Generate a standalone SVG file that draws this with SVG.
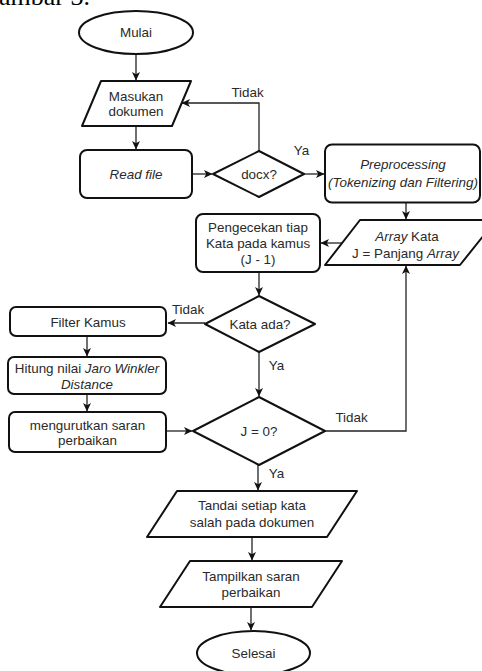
<svg xmlns="http://www.w3.org/2000/svg" width="482" height="671" viewBox="0 0 482 671">
<defs>
<marker id="arr" markerWidth="9" markerHeight="8" refX="8" refY="4" orient="auto" markerUnits="userSpaceOnUse">
<path d="M0,0 L8.5,4 L0,8 L2.2,4 Z" fill="#111"/>
</marker>
<style>
.shape{fill:#fff;stroke:#111;stroke-width:2;stroke-linejoin:round}
.t{font-family:"Liberation Sans",Arial,sans-serif;font-size:13.4px;fill:#2a2a2a;text-anchor:middle}
.i{font-style:italic}
.conn{fill:none;stroke:#222;stroke-width:1.3}
.lbl{font-family:"Liberation Sans",Arial,sans-serif;font-size:13.4px;fill:#2a2a2a;text-anchor:middle}
</style>
</defs>
<rect width="482" height="671" fill="#fff"/>
<text x="-1" y="5" font-family="Liberation Serif, Times New Roman, serif" font-size="26" fill="#000">ambar 3.</text>

<g id="connectors">
<path class="conn" d="M136,54 V80" marker-end="url(#arr)"/>
<path class="conn" d="M136,126 V149" marker-end="url(#arr)"/>
<path class="conn" d="M192,174 H212" marker-end="url(#arr)"/>
<path class="conn" d="M259,151 V103 H182" marker-end="url(#arr)"/>
<path class="conn" d="M304,174 H324" marker-end="url(#arr)"/>
<path class="conn" d="M406,202 V219" marker-end="url(#arr)"/>
<path class="conn" d="M342,243 H321" marker-end="url(#arr)"/>
<path class="conn" d="M259,272 V295" marker-end="url(#arr)"/>
<path class="conn" d="M205,323 H168" marker-end="url(#arr)"/>
<path class="conn" d="M87,336 V356" marker-end="url(#arr)"/>
<path class="conn" d="M87,394 V411" marker-end="url(#arr)"/>
<path class="conn" d="M166,431 H192" marker-end="url(#arr)"/>
<path class="conn" d="M259,352 V396" marker-end="url(#arr)"/>
<path class="conn" d="M325,431 H406 V266" marker-end="url(#arr)"/>
<path class="conn" d="M258,465 V490" marker-end="url(#arr)"/>
<path class="conn" d="M252,537 V560" marker-end="url(#arr)"/>
<path class="conn" d="M251,607 V630" marker-end="url(#arr)"/>
<text class="lbl" x="247.5" y="96.5">Tidak</text>
<text class="lbl" x="301.5" y="154.5">Ya</text>
<text class="lbl" x="188" y="313.5">Tidak</text>
<text class="lbl" x="276.5" y="369.5">Ya</text>
<text class="lbl" x="351.5" y="421.5">Tidak</text>
<text class="lbl" x="276.5" y="478">Ya</text>
</g>

<g id="mulai">
<ellipse class="shape" cx="136" cy="32.5" rx="57" ry="21.5"/>
<text class="t" x="136" y="37">Mulai</text>
</g>
<g id="masukan">
<path class="shape" d="M101,81 H191 L172,126 H82 Z"/>
<text class="t" x="136" y="100.5">Masukan</text>
<text class="t" x="136" y="116">dokumen</text>
</g>
<g id="readfile">
<rect class="shape" x="80" y="150" width="112" height="48" rx="7"/>
<text class="t i" x="136" y="178.5">Read file</text>
</g>
<g id="docx">
<path class="shape" d="M259,151 L304,174 L259,197 L213,174 Z"/>
<text class="t" x="259" y="178.5">docx?</text>
</g>
<g id="preprocessing">
<rect class="shape" x="325" y="144.5" width="155" height="58" rx="7"/>
<text class="t i" x="403" y="168.5">Preprocessing</text>
<text class="t i" x="403" y="186.5">(Tokenizing dan Filtering)</text>
</g>
<g id="array">
<path class="shape" d="M360,220 H496 L460,265 H325 Z"/>
<text class="t" x="407" y="240.5"><tspan class="i">Array</tspan> Kata</text>
<text class="t" x="405.5" y="257.5">J = Panjang <tspan class="i">Array</tspan></text>
</g>
<g id="pengecekan">
<rect class="shape" x="196" y="214" width="124" height="58" rx="7"/>
<text class="t" x="258" y="231.5">Pengecekan tiap</text>
<text class="t" x="258" y="247.5">Kata pada kamus</text>
<text class="t" x="258" y="264">(J - 1)</text>
</g>
<g id="kataada">
<path class="shape" d="M259,296 L315,324 L259,352 L205,324 Z"/>
<text class="t" x="260" y="328.5">Kata ada?</text>
</g>
<g id="filter">
<rect class="shape" x="10" y="307" width="156" height="29" rx="6"/>
<text class="t" x="88" y="326.5">Filter Kamus</text>
</g>
<g id="hitung">
<rect class="shape" x="8" y="357" width="158" height="37" rx="6"/>
<text class="t" x="87" y="372.5">Hitung nilai <tspan class="i">Jaro Winkler</tspan></text>
<text class="t i" x="87" y="388.5">Distance</text>
</g>
<g id="mengurutkan">
<rect class="shape" x="9" y="412" width="157" height="40" rx="6"/>
<text class="t" x="87.5" y="429.5">mengurutkan saran</text>
<text class="t" x="87.5" y="445">perbaikan</text>
</g>
<g id="j0">
<path class="shape" d="M259,397 L325,431 L259,465 L193,431 Z"/>
<text class="t" x="259" y="435.5">J = 0?</text>
</g>
<g id="tandai">
<path class="shape" d="M177,491 H357 L327,537 H147 Z"/>
<text class="t" x="252" y="509.5">Tandai setiap kata</text>
<text class="t" x="252" y="526.5">salah pada dokumen</text>
</g>
<g id="tampilkan">
<path class="shape" d="M190,561 H342 L312,607 H160 Z"/>
<text class="t" x="251" y="580.5">Tampilkan saran</text>
<text class="t" x="251" y="596.5">perbaikan</text>
</g>
<g id="selesai">
<ellipse class="shape" cx="253.5" cy="653" rx="56.5" ry="22"/>
<text class="t" x="253.5" y="657.5">Selesai</text>
</g>
</svg>
